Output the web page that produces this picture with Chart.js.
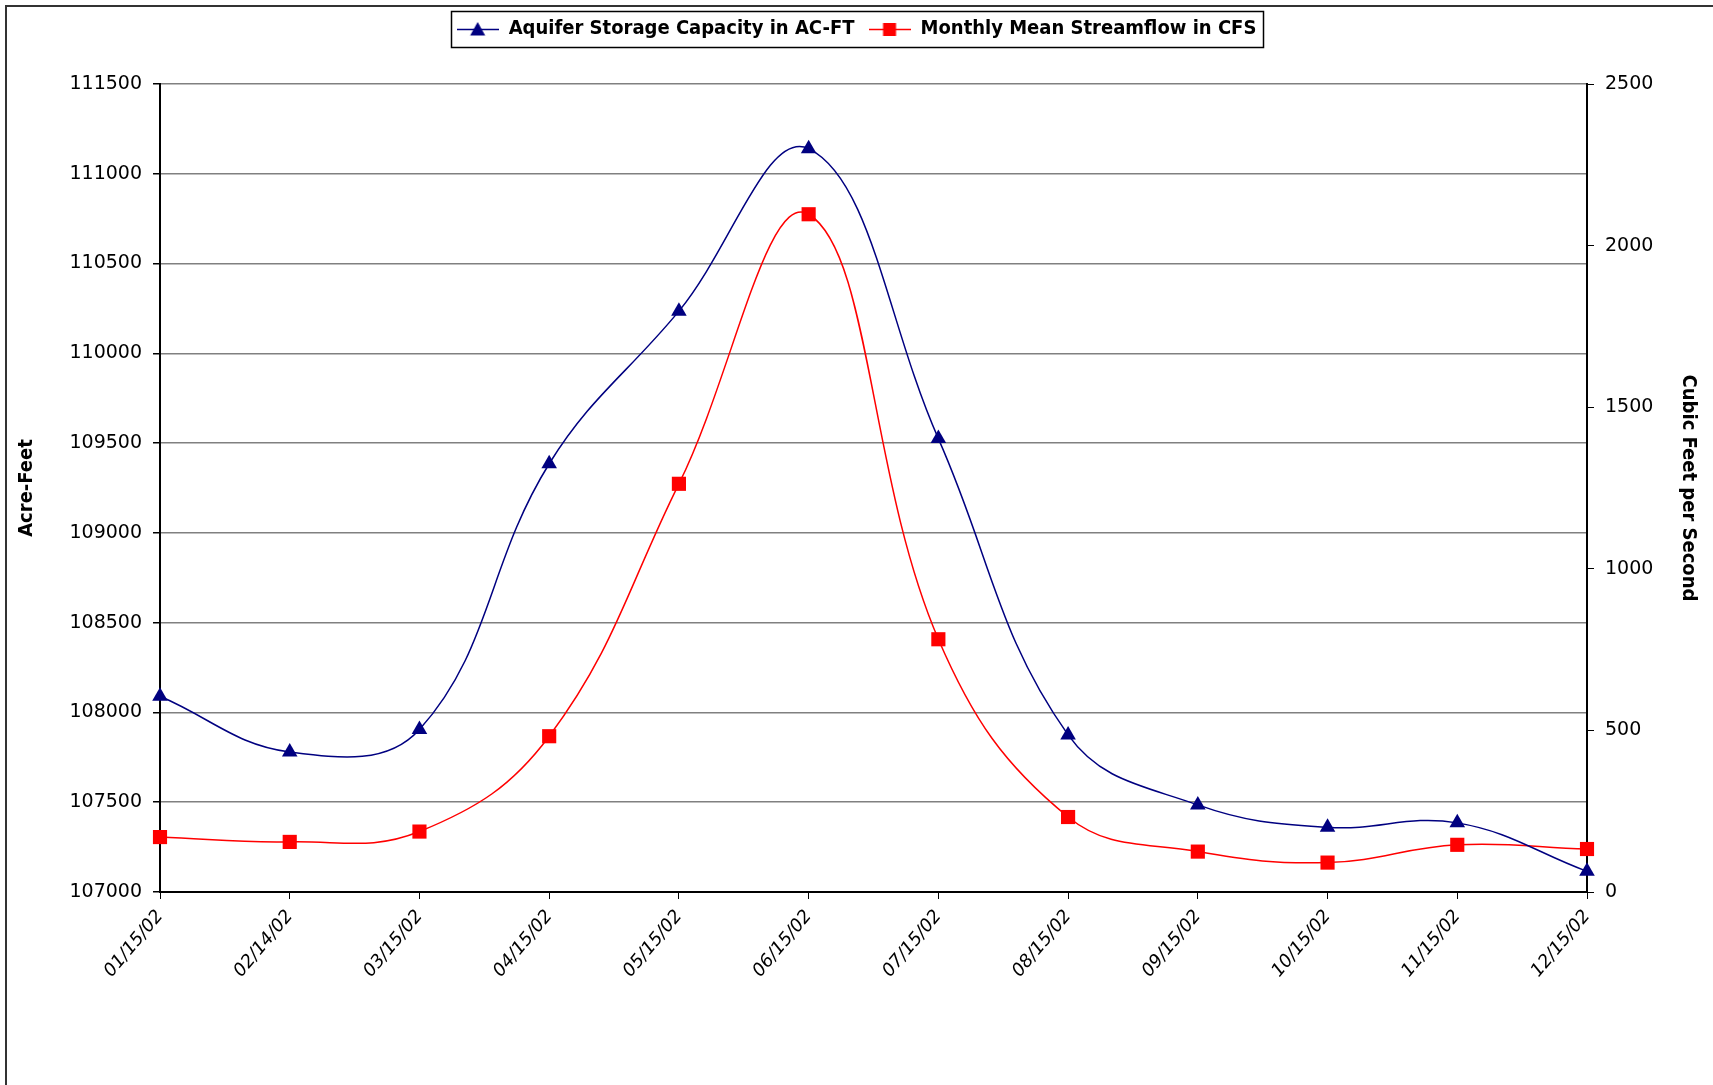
<!doctype html>
<html lang="en">
<head>
<meta charset="utf-8">
<title>Aquifer Storage vs. Streamflow, 2002</title>
<style>
  html, body { margin: 0; padding: 0; background: #fff; }
  #wrap { width: 1713px; height: 1085px; }
</style>
</head>
<body>
<div id="wrap"><canvas id="aquiferChart" width="1713" height="1085"></canvas></div>

<script src="https://cdn.jsdelivr.net/npm/chart.js"></script>
<script>
// values
const dates = ['01/15/02', '02/14/02', '03/15/02', '04/15/02', '05/15/02', '06/15/02',
               '07/15/02', '08/15/02', '09/15/02', '10/15/02', '11/15/02', '12/15/02'];
const storageAcFt = [108090, 107780, 107905, 109385, 110235, 111140,
                     109525, 107875, 107485, 107360, 107385, 107115];
const streamflowCfs = [170, 155, 187, 482, 1263, 2097, 782, 232, 125, 91, 146, 133];

const acreFeetRange = [107000, 111500];
const cfsRange = [0, 2500];
const tickStep = 500;

const NAVY = '#000080';
const RED = '#ff0000';
const narrowBold = "'Liberation Sans Narrow', 'DejaVu Sans Condensed', sans-serif";
const tickFont = { family: "'DejaVu Sans', sans-serif", size: 19 };

// little line + marker pictures for the legend
function legendIcon(color, shape) {
  const c = document.createElement('canvas');
  c.width = 42; c.height = 18;
  const g = c.getContext('2d');
  g.strokeStyle = color;
  g.lineWidth = 1.5;
  g.beginPath(); g.moveTo(0, 9.5); g.lineTo(42, 9.5); g.stroke();
  g.fillStyle = color;
  if (shape === 'triangle') {
    g.beginPath(); g.moveTo(21, 2); g.lineTo(28.5, 15.5); g.lineTo(13.5, 15.5); g.closePath(); g.fill();
  } else {
    g.fillRect(14.5, 3, 13, 13);
  }
  return c;
}
const legendIcons = [legendIcon(NAVY, 'triangle'), legendIcon(RED, 'rect')];

const pageFrame = {
  id: 'pageFrame',
  beforeDraw(chart) {
    const ctx = chart.ctx;
    ctx.save();
    ctx.fillStyle = '#fff';
    ctx.fillRect(0, 0, chart.width, chart.height);
    ctx.strokeStyle = '#333';
    ctx.lineWidth = 2;
    ctx.beginPath();
    ctx.moveTo(chart.width, 6);
    ctx.lineTo(6, 6);
    ctx.lineTo(6, chart.height);
    ctx.stroke();
    ctx.restore();
  }
};

// push the plot down below the legend
const legendGap = {
  id: 'legendGap',
  beforeInit(chart) {
    const fit = chart.legend.fit;
    chart.legend.fit = function () {
      fit.call(this);
      this.height += 35;
    };
  }
};

const legendFrame = {
  id: 'legendFrame',
  afterDraw(chart) {
    const boxes = chart.legend.legendHitBoxes;
    if (!boxes || !boxes.length) return;
    let l = Infinity, r = -Infinity, t = Infinity, b = -Infinity;
    boxes.forEach(h => {
      l = Math.min(l, h.left); r = Math.max(r, h.left + h.width);
      t = Math.min(t, h.top); b = Math.max(b, h.top + h.height);
    });
    const ctx = chart.ctx;
    ctx.save();
    ctx.strokeStyle = '#000';
    ctx.lineWidth = 1.5;
    ctx.strokeRect(Math.round(l - 6) + 0.5, Math.round(t - 8) + 0.5, Math.round(r - l + 12), Math.round(b - t + 16));
    ctx.restore();
  }
};

const chart = new Chart(document.getElementById('aquiferChart'), {
  type: 'line',
  data: {
    labels: dates,
    datasets: [{
      label: 'Aquifer Storage Capacity in AC-FT',
      data: storageAcFt,
      yAxisID: 'yLeft',
      borderColor: NAVY,
      backgroundColor: NAVY,
      borderWidth: 1.5,
      pointStyle: 'triangle',
      pointRadius: 9,
      pointBorderWidth: 0,
      tension: 0.4,
      fill: false
    }, {
      label: 'Monthly Mean Streamflow in CFS',
      data: streamflowCfs,
      yAxisID: 'yRight',
      borderColor: RED,
      backgroundColor: RED,
      borderWidth: 1.5,
      pointStyle: 'rect',
      pointRadius: 10,
      pointBorderWidth: 0,
      tension: 0.4,
      fill: false
    }]
  },
  options: {
    responsive: false,
    animation: false,
    events: [],
    layout: { padding: { top: 5, left: 0, right: 0, bottom: 0 } },
    plugins: {
      tooltip: { enabled: false },
      legend: {
        position: 'top',
        labels: {
          color: '#000',
          font: { family: narrowBold, size: 20, weight: 'bold' },
          usePointStyle: true,
          pointStyleWidth: 42,
          padding: 14,
          generateLabels(c) {
            const items = Chart.defaults.plugins.legend.labels.generateLabels(c);
            items.forEach((it, i) => { it.pointStyle = legendIcons[i]; });
            return items;
          }
        }
      }
    },
    scales: {
      x: {
        offset: false,
        grid: { drawOnChartArea: false, color: '#000', lineWidth: 1, tickLength: 7 },
        border: { color: '#000', width: 2 },
        ticks: {
          autoSkip: false,
          minRotation: 50,
          maxRotation: 50,
          padding: 7,
          color: '#000',
          font: { family: "'DejaVu Sans', sans-serif", size: 18, style: 'italic' }
        },
        afterFit(s) { s.height = 193; }
      },
      yLeft: {
        position: 'left',
        min: acreFeetRange[0],
        max: acreFeetRange[1],
        ticks: { stepSize: tickStep, padding: 11, color: '#000', font: tickFont, callback: v => String(v) },
        grid: { color: '#808080', lineWidth: 1.5, tickColor: '#000', tickLength: 7 },
        border: { color: '#000', width: 2 },
        title: {
          display: true,
          text: 'Acre-Feet',
          color: '#000',
          font: { family: narrowBold, size: 20, weight: 'bold' },
          padding: { top: 15, bottom: 0 }
        },
        afterFit(s) { s.width = 160; }
      },
      yRight: {
        position: 'right',
        min: cfsRange[0],
        max: cfsRange[1],
        ticks: { stepSize: tickStep, padding: 11, color: '#000', font: tickFont, callback: v => String(v) },
        grid: { drawOnChartArea: false, color: '#000', lineWidth: 1, tickLength: 7 },
        border: { color: '#000', width: 2 },
        title: {
          display: true,
          text: 'Cubic Feet per Second',
          color: '#000',
          font: { family: narrowBold, size: 20, weight: 'bold' },
          padding: { top: 13, bottom: 0 }
        },
        afterFit(s) { s.width = 126; }
      }
    }
  },
  plugins: [pageFrame, legendGap, legendFrame]
});
</script>
</body>
</html>
